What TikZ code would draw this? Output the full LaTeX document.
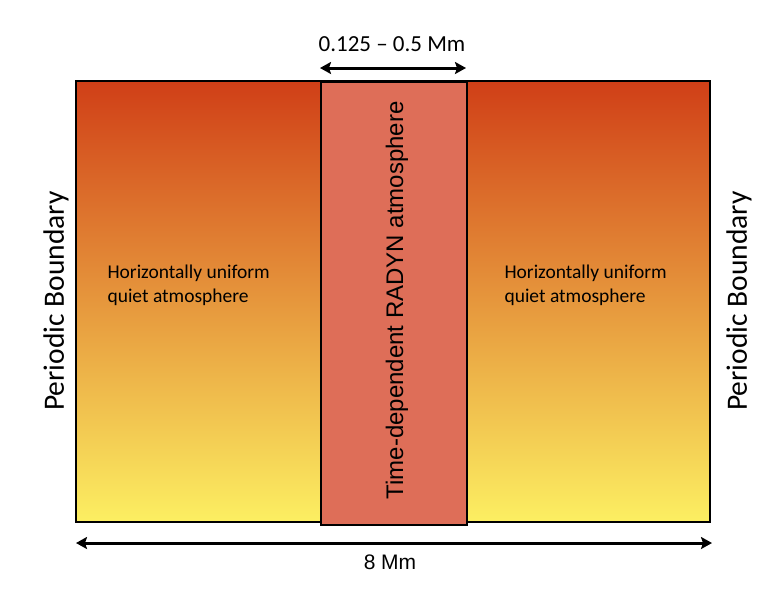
\documentclass[tikz,border=0pt]{standalone}
\usepackage{fontspec}
\setmainfont{Carlito}
\newfontfamily\arialfont{Liberation Sans}
\usetikzlibrary{arrows.meta, positioning}
\definecolor{hottop}{HTML}{D03F17}
\definecolor{warmmid}{HTML}{E58D30}
\definecolor{coolbottom}{HTML}{FCEF62}
\definecolor{radyncol}{HTML}{DE6E58}

\begin{document}
\begin{tikzpicture}[x=1pt, y=-1pt, >={Stealth[length=11pt, width=12pt, inset=2pt]}]
    \useasboundingbox (0,0) rectangle (778,598);

    % Quiet atmosphere box
    \shade[top color=hottop, middle color=warmmid, bottom color=coolbottom] (76,81) rectangle (710,522);
    \draw[line width=1.6pt] (76,81) rectangle (710,522);
    \node[anchor=west, align=left, font=\fontsize{19.5}{24}\selectfont] (quietL) at (104,285) {Horizontally uniform\\quiet atmosphere};
    \node[anchor=west, align=left, font=\fontsize{19.5}{24}\selectfont] (quietR) at (501,285) {Horizontally uniform\\quiet atmosphere};

    % RADYN column
    \node[draw, fill=radyncol, line width=1.6pt, minimum width=146pt, minimum height=443pt, inner sep=0pt, anchor=north west] (radyn) at (320,81) {};
    \node[rotate=90, font=\arialfont\fontsize{24}{28}\selectfont] (radynlab) at ([xshift=3pt, yshift=3pt]radyn.center) {Time-dependent RADYN atmosphere};

    % Boundaries
    \node[rotate=90, font=\fontsize{29.5}{32}\selectfont] (pbL) at (56,301) {Periodic Boundary};
    \node[rotate=90, font=\fontsize{29.5}{32}\selectfont] (pbR) at (739,301) {Periodic Boundary};

    % Width arrows & Labels
    \coordinate (cl) at (320,68);
    \coordinate (cr) at (466,68);
    \draw[<->, line width=3pt] (cl) -- (cr);
    \node[font=\fontsize{23}{26}\selectfont] (cwidth) at (392,44) {0.125 -- 0.5 Mm};

    \coordinate (wl) at (76,543);
    \coordinate (wr) at (712,543);
    \draw[<->, line width=3pt] (wl) -- (wr);
    \node[font=\arialfont\fontsize{21}{24}\selectfont] (wwidth) at (390,562) {8 Mm};
  \end{tikzpicture}
\end{document}
